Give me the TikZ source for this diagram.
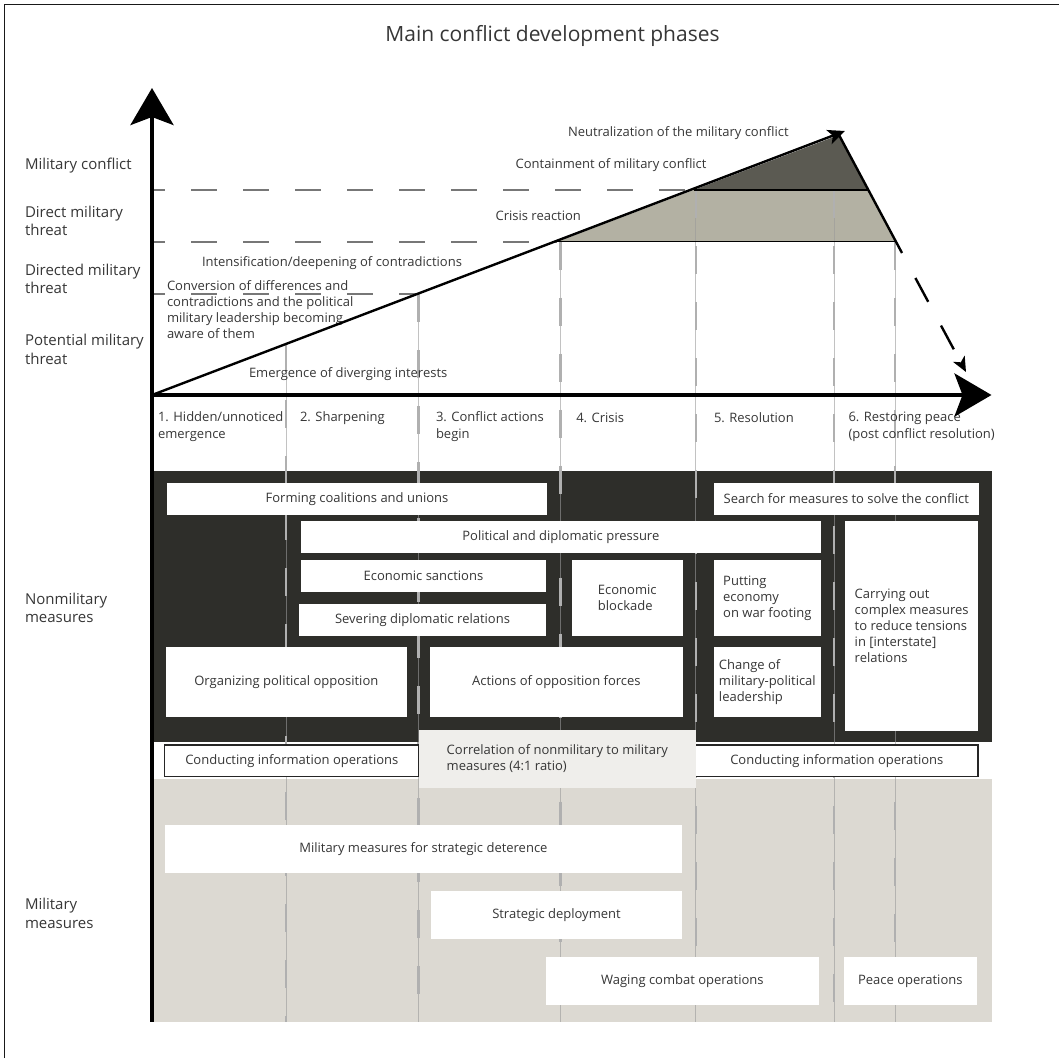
\documentclass[tikz,border=0pt]{standalone}
\usepackage{fontspec}
\setmainfont{Open Sans}
\usetikzlibrary{arrows.meta}
\definecolor{darkpanel}{HTML}{2E2E2A}
\definecolor{lightpanel}{HTML}{DCD9D2}
\definecolor{darkpoly}{HTML}{5B5A52}
\definecolor{lightpoly}{HTML}{B3B1A3}
\definecolor{corrfill}{HTML}{EFEEEB}
\definecolor{txt}{HTML}{363636}
\definecolor{dashgray}{HTML}{777777}
\definecolor{vline}{HTML}{9A9A9A}
\definecolor{vdash}{HTML}{B0B0B0}
\newcommand\Bx[7][wbox]{%
  \node[#1, minimum width={#5-#3}, minimum height={#6-#4}, anchor=north west] (#2) at (#3,#4) {#7};}
\begin{document}
\begin{tikzpicture}[x=1pt,y=-1pt,
  every node/.style={text=txt, inner sep=0pt, outer sep=0pt},
  wbox/.style={fill=white, align=center, font=\fontsize{13}{16}\selectfont},
  wboxl/.style={wbox, align=left},
  ibox/.style={wbox, draw=black!85, line width=1.1pt},
  cbox/.style={wbox, fill=corrfill, align=left},
  lbl/.style={anchor=west, align=left, font=\fontsize{13}{16}\selectfont},
  phl/.style={anchor=west, align=left, font=\fontsize{13}{17}\selectfont},
  ylbl/.style={anchor=west, align=left, font=\fontsize{15}{18.5}\selectfont},
  hdash/.style={dashgray, line width=2.2pt, dash pattern=on 26pt off 26pt, dash phase=13pt},
  vbase/.style={vline, opacity=0.6, line width=1pt},
  vdashs/.style={vdash, line width=2.2pt, dash pattern=on 28pt off 28pt},
  axis/.style={line width=4pt, -{Stealth[length=37pt,width=43pt,inset=8pt]}},
  curve/.style={line width=2.4pt}
]
\useasboundingbox (0,0) rectangle (1059,1058);
% frame
\draw[line width=1.3pt, black!90] (4.7,1058) -- (4.7,4.7) -- (1059,4.7);
% panels
\fill[darkpanel] (152,471) rectangle (992,741.5);
\fill[lightpanel] (152,779) rectangle (992,1021.5);
% key points
\coordinate (O) at (152,395);
\coordinate (T) at (845,131);
\coordinate (P) at (839,135);
\coordinate (S) at (902,253);
\coordinate (D1) at (915.4,278);
\coordinate (D2) at (966,372);
\coordinate (A) at (693.7,190);
\coordinate (B) at (868.4,190);
\coordinate (C) at (557.1,241.7);
\coordinate (D) at (896,241.7);
\coordinate (E) at (418,294.3);
\coordinate (H1) at (152,190);
\coordinate (H2) at (152,241.7);
\coordinate (H3) at (152,294.3);
% dashed level lines
\draw[hdash] (H1) -- (A);
\draw[hdash] (H2) -- (C);
\draw[hdash] (H3) -- (E);
% polygons
\fill[lightpoly] (C) -- (A) -- (B) -- (D) -- cycle;
\fill[darkpoly] (A) -- (P) -- (B) -- cycle;
% phase lines
\foreach \x/\y in {286/344.3, 418.5/294.3, 560.4/241.7, 695.6/190, 834/190, 895/241.7}{
  \draw[vbase] (\x,\y) -- (\x,1021.5);
  \draw[vdashs] (\x,\y) -- (\x,1021.5);
}
\draw[line width=1.5pt] (A) -- (B);
\draw[line width=1.5pt] (C) -- (D);
% boxes
\Bx{forming}{167}{483}{547}{515}{Forming coalitions and unions}
\Bx{search}{714}{483}{978.6}{515}{Search for measures to solve the conflict}
\Bx{political}{301}{521}{820.7}{552.7}{Political and diplomatic pressure}
\Bx[wboxl]{carrying}{845.4}{521}{978}{730.7}{Carrying out\\complex measures\\to reduce tensions\\in [interstate]\\relations}
\Bx{sanctions}{301}{560}{546}{591.7}{Economic sanctions}
\Bx[wboxl]{blockade}{571.6}{560}{683}{635.7}{Economic\\blockade}
\Bx[wboxl]{putting}{714}{560}{820.7}{635.7}{Putting\\economy\\on war footing}
\Bx{severing}{299}{604}{546}{635.7}{Severing diplomatic relations}
\Bx{organizing}{166}{647}{406.7}{716.7}{Organizing political opposition}
\Bx{actions}{429.7}{647}{683}{716.7}{Actions of opposition forces}
\Bx[wboxl]{change}{714}{647}{820.7}{716.7}{Change of\\military-political\\leadership}
\Bx[ibox]{info1}{164.6}{745}{419}{776.7}{Conducting information operations}
\Bx[ibox]{info2}{695.6}{745}{978}{776.7}{Conducting information operations}
\Bx[cbox]{corr}{419}{730}{695.6}{788}{Correlation of nonmilitary to military\\measures (4:1 ratio)}
\Bx{deter}{164.8}{825}{682}{872.7}{Military measures for strategic deterence}
\Bx{deploy}{431}{891}{682}{938.7}{Strategic deployment}
\Bx{combat}{545.7}{957}{819}{1004.7}{Waging combat operations}
\Bx{peace}{844}{957}{976.6}{1004.7}{Peace operations}
% title
\node[font=\fontsize{21}{25}\selectfont] (title) at (552.5,36) {Main conflict development phases};
% level labels
\node[ylbl] (yl1) at (25,166) {Military conflict};
\node[ylbl] (yl2) at (25,221) {Direct military\\threat};
\node[ylbl] (yl3) at (25,279) {Directed military\\threat};
\node[ylbl] (yl4) at (25,349.5) {Potential military\\threat};
\node[ylbl] (yl5) at (25,608) {Nonmilitary\\measures};
\node[ylbl] (yl6) at (25,913.5) {Military\\measures};
% chart labels
\node[lbl] (cl1) at (568,133.5) {Neutralization of the military conflict};
\node[lbl, anchor=east] (cl2) at (706.5,165.5) {Containment of military conflict};
\node[lbl] (cl3) at (495.6,215.5) {Crisis reaction};
\node[lbl] (cl4) at (202,263.5) {Intensification/deepening of contradictions};
\node[lbl] (cl5) at (167,310) {Conversion of differences and\\contradictions and the political\\military leadership becoming\\aware of them};
\node[lbl] (cl6) at (249,374.5) {Emergence of diverging interests};
% phase labels
\node[phl] (ph1) at (158,426.5) {1. Hidden/unnoticed\\emergence};
\node[phl] (ph2) at (300,418) {2. Sharpening};
\node[phl] (ph3) at (436,426.5) {3. Conflict actions\\begin};
\node[phl] (ph4) at (576.3,418) {4. Crisis};
\node[phl] (ph5) at (714,418) {5. Resolution};
\node[phl] (ph6) at (848.5,426.5) {6. Restoring peace\\(post conflict resolution)};
% axes
\coordinate (yb) at (152,1021.5);
\coordinate (yt) at (152,88);
\coordinate (xb) at (150,395);
\coordinate (xt) at (991.5,395);
\draw[axis] (yb) -- (yt);
\draw[axis] (xb) -- (xt);
% development curve
\draw[curve, -{Stealth[length=17pt,width=15pt,inset=4pt]}] (O) -- (T);
\draw[curve] (P) -- (S);
\draw[curve, dash pattern=on 27pt off 27pt, -{Stealth[length=15pt,width=13pt,inset=4pt]}] (D1) -- (D2);
\end{tikzpicture}
\end{document}
